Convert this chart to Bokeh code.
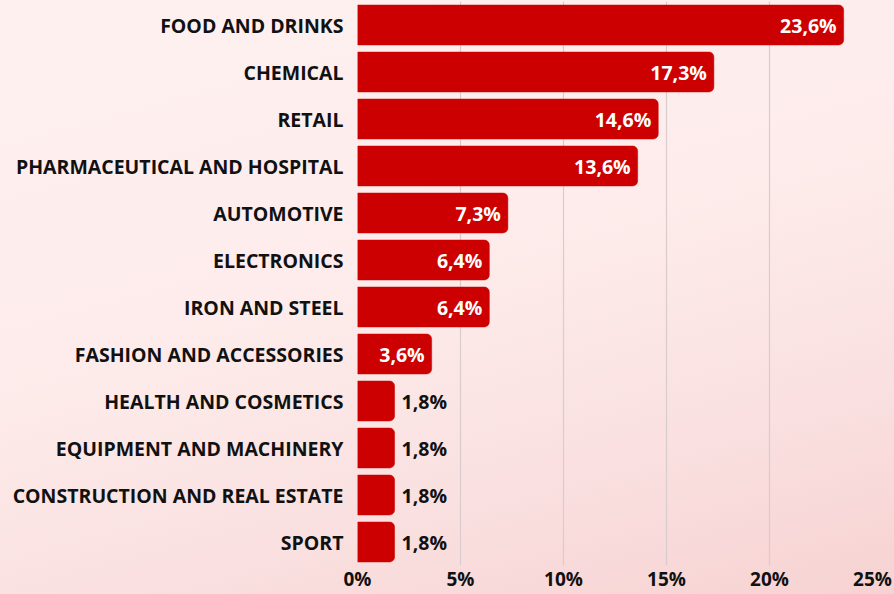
from bokeh.plotting import figure
from bokeh.models import ColumnDataSource, Range1d, FactorRange
from bokeh.core.properties import value
from bokeh.embed import file_html
from bokeh.resources import INLINE

categories = ["FOOD AND DRINKS", "CHEMICAL", "RETAIL", "PHARMACEUTICAL AND HOSPITAL",
              "AUTOMOTIVE", "ELECTRONICS", "IRON AND STEEL", "FASHION AND ACCESSORIES",
              "HEALTH AND COSMETICS", "EQUIPMENT AND MACHINERY",
              "CONSTRUCTION AND REAL ESTATE", "SPORT"]
shares = [23.6, 17.3, 14.6, 13.6, 7.3, 6.4, 6.4, 3.6, 1.8, 1.8, 1.8, 1.8]
x_ticks = [0, 5, 10, 15, 20, 25]
tick_labels = ["0%", "5%", "10%", "15%", "20%", "25%"]

FONT = "Open Sans"
RED = "#CC0000"

def fmt(v):
    return f"{v:.1f}%".replace(".", ",")

p = figure(width=894, height=594,
           y_range=FactorRange(factors=categories[::-1]),
           x_range=Range1d(0, 25),
           output_backend="svg", toolbar_location=None,
           min_border_left=357, min_border_right=22,
           min_border_top=1, min_border_bottom=0)
p.styles = {"background": "linear-gradient(165deg, #fdf1f0 0%, #fdeceb 45%, #fae0e0 75%, #f7d2d2 100%)"}
p.background_fill_alpha = 0
p.border_fill_alpha = 0
p.outline_line_color = None

src = ColumnDataSource(dict(cat=categories, val=shares))
p.hbar(y="cat", right="val", left=0, height=0.85, source=src,
       fill_color=RED, line_color=RED, line_width=0.5,
       border_radius=(0, 5, 5, 0))

inside = [i for i, v in enumerate(shares) if v >= 3]
outside = [i for i, v in enumerate(shares) if v < 3]
src_in = ColumnDataSource(dict(x=[shares[i] for i in inside], y=[categories[i] for i in inside],
                               t=[fmt(shares[i]) for i in inside]))
src_out = ColumnDataSource(dict(x=[shares[i] for i in outside], y=[categories[i] for i in outside],
                                t=[fmt(shares[i]) for i in outside]))
p.text(x="x", y="y", text="t", source=src_in, x_offset=-7, text_align="right",
       text_baseline="middle", text_color="white", text_font=value(FONT),
       text_font_style="bold", text_font_size="19.5px")
p.text(x="x", y="y", text="t", source=src_out, x_offset=7, text_align="left",
       text_baseline="middle", text_color="#111111", text_font=value(FONT),
       text_font_style="bold", text_font_size="19.5px")

p.xaxis.ticker = x_ticks
p.xaxis.major_label_overrides = {t: l for t, l in zip(x_ticks, tick_labels)}
p.xaxis.axis_line_color = None
p.xaxis.major_tick_line_color = None
p.xaxis.minor_tick_line_color = None
p.xaxis.major_tick_out = 0
p.xaxis.major_tick_in = 0
p.xaxis.minor_tick_out = 0
p.xaxis.major_label_standoff = 0
p.xaxis.major_label_text_font = FONT
p.xaxis.major_label_text_font_style = "bold"
p.xaxis.major_label_text_font_size = "19px"
p.xaxis.major_label_text_color = "#111111"

p.yaxis.axis_line_color = None
p.yaxis.major_tick_line_color = None
p.yaxis.minor_tick_line_color = None
p.yaxis.major_tick_out = 0
p.yaxis.major_tick_in = 0
p.yaxis.minor_tick_out = 0
p.yaxis.major_label_standoff = 14
p.yaxis.major_label_text_font = FONT
p.yaxis.major_label_text_font_style = "bold"
p.yaxis.major_label_text_font_size = "19.5px"
p.yaxis.major_label_text_color = "#111111"

p.xgrid.ticker = x_ticks
p.xgrid.grid_line_color = "#d8cccc"
p.xgrid.grid_line_width = 1.2
p.ygrid.grid_line_color = None

open("out.html", "w").write(file_html(p, INLINE))
